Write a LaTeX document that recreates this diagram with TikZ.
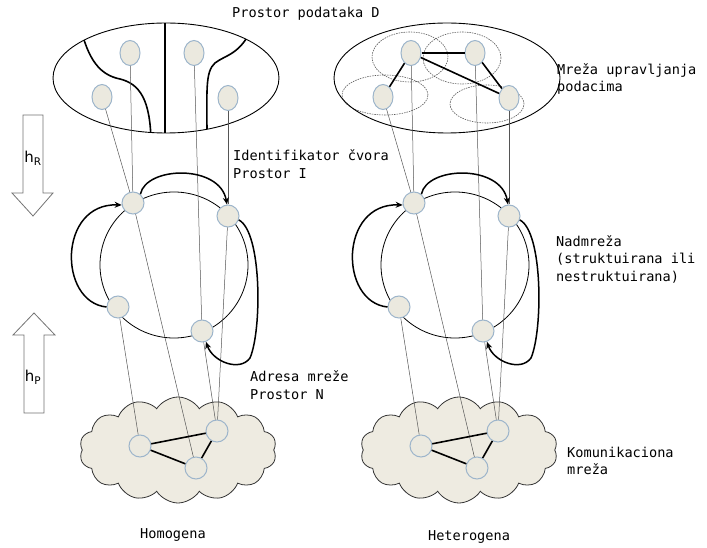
\documentclass[tikz,border=0pt]{standalone}
\usepackage{fontspec}
\setmonofont{DejaVu Sans Mono}
\newfontfamily\hfont{DejaVu Sans}
\usetikzlibrary{shapes.geometric,shapes.symbols,arrows.meta}
\definecolor{nodefill}{HTML}{EBE9DF}
\definecolor{nodeedge}{HTML}{9DB5CB}
\definecolor{cloudfill}{HTML}{EEEBE1}
\definecolor{thinline}{HTML}{555555}
\tikzset{
 pnode/.style={circle, fill=nodefill, draw=nodeedge, line width=1pt, minimum size=22pt, inner sep=0pt},
 dnode/.style={ellipse, fill=nodefill, draw=nodeedge, line width=1pt, minimum width=20pt, minimum height=25pt, inner sep=0pt},
 thinlink/.style={draw=thinline, line width=0.5pt},
 thicklink/.style={draw=black, line width=1.6pt},
 bigarrow/.style={draw=black, line width=1.5pt, -{Stealth[length=7pt,width=6pt]}},
 lbl/.style={font=\ttfamily\fontsize{13.6}{17.5}\selectfont, align=left, anchor=west, inner sep=0pt},
 clbl/.style={font=\ttfamily\fontsize{13.6}{17.5}\selectfont, inner sep=0pt},
 cloudnode/.style={cloud, cloud puffs=14, cloud puff arc=115, aspect=1.9, draw=black!80, line width=0.8pt, fill=cloudfill, minimum width=197pt, minimum height=106pt, inner sep=0pt},
 hollow/.style={draw=black!55, line width=0.8pt, fill=white},
 hlbl/.style={font=\hfont\fontsize{15}{15}\selectfont, inner sep=0pt},
 zone/.style={draw=black!65, line width=0.6pt, dash pattern=on 1.5pt off 1pt}
}
\begin{document}
\begin{tikzpicture}[x=1pt,y=-1pt]
\useasboundingbox (0,0) rectangle (707,548);
% side arrows
\draw[hollow] (23,115) -- (43,115) -- (43,193) -- (53,193) -- (33,216) -- (12,193) -- (23,193) -- cycle;
\draw[hollow] (24,413) -- (24,335) -- (13,335) -- (34,313) -- (55,335) -- (44,335) -- (44,413) -- cycle;
\node[hlbl] (hr) at (33,158) {h\textsubscript{R}};
\node[hlbl] (hp) at (33,377) {h\textsubscript{P}};
% right-only dotted zones
\draw[zone] (410,57) ellipse [x radius=38pt, y radius=25pt];
\draw[zone] (462,58) ellipse [x radius=39pt, y radius=26pt];
\draw[zone] (385,95) ellipse [x radius=43pt, y radius=20pt];
\draw[zone] (487,104) ellipse [x radius=37pt, y radius=19pt];
% left-only partition curves
\begin{scope}
 \clip (166,78) ellipse [x radius=113pt, y radius=55pt];
 \draw[line width=1.6pt] (80,25) .. controls (88,60) and (100,75) .. (120,79) .. controls (140,84) and (150,100) .. (151,140);
 \draw[line width=1.6pt] (252,28) .. controls (240,55) and (225,55) .. (215,63) .. controls (205,72) and (207,90) .. (207,140);
 \draw[line width=1.6pt] (165,10) -- (165,140);
\end{scope}
\foreach \s/\dx in {L/0,R/281}{
 \begin{scope}[xshift=\dx pt]
  \node[cloudnode] (cl\s) at (178,450) {};
  \draw[line width=0.8pt] (174,265) ellipse [x radius=74pt, y radius=73pt];
  \draw[line width=0.9pt] (166,78) ellipse [x radius=113pt, y radius=55pt];
  \node[dnode] (d1\s) at (130,53) {};
  \node[dnode] (d2\s) at (194,53) {};
  \node[dnode] (d3\s) at (102,97) {};
  \node[dnode] (d4\s) at (228,98) {};
  \node[pnode] (r1\s) at (133,203) {};
  \node[pnode] (r2\s) at (228,216) {};
  \node[pnode] (r3\s) at (118,307) {};
  \node[pnode] (r4\s) at (202,331) {};
  \node[pnode] (c1\s) at (140,446) {};
  \node[pnode] (c2\s) at (217,431) {};
  \node[pnode] (c3\s) at (196,468) {};
  \draw[thinlink] (d1\s) -- (r1\s);
  \draw[thinlink] (d3\s) -- (r1\s);
  \draw[thinlink] (d2\s) -- (r4\s);
  \draw[thinlink] (d4\s) -- (r2\s);
  \draw[thinlink] (r1\s) -- (c3\s);
  \draw[thinlink] (r3\s) -- (c1\s);
  \draw[thinlink] (r4\s) -- (c2\s);
  \draw[thinlink] (r2\s) -- (c2\s);
  \draw[thicklink] (c1\s) -- (c2\s);
  \draw[thicklink] (c1\s) -- (c3\s);
  \draw[thicklink] (c3\s) -- (c2\s);
  \draw[bigarrow] (r1\s.50) .. controls (146,166) and (220,164) .. (r2\s.95);
  \draw[bigarrow] (r3\s.180) .. controls (58,302) and (58,203) .. (r1\s.190);
  \draw[bigarrow] (r2\s.-20) .. controls (262,232) and (262,330) .. (250,358) .. controls (240,372) and (213,362) .. (r4\s.-70);
 \end{scope}
}
\draw[thicklink] (d1R) -- (d2R);
\draw[thicklink] (d1R) -- (d3R);
\draw[thicklink] (d1R) -- (d4R);
\draw[thicklink] (d2R) -- (d4R);
% labels
\node[lbl] (tD) at (232,14) {Prostor podataka D};
\node[lbl] (tM) at (557,79) {Mreža upravljanja\\podacima};
\node[lbl] (tI) at (233,164) {Identifikator čvora\\Prostor I};
\node[lbl] (tO) at (556,259) {Nadmreža\\(struktuirana ili\\nestruktuirana)};
\node[lbl] (tA) at (250,385) {Adresa mreže\\Prostor N};
\node[lbl] (tK) at (567,461) {Komunikaciona\\mreža};
\node[clbl] (tH) at (173,535) {Homogena};
\node[clbl] (tE) at (469,537) {Heterogena};
\end{tikzpicture}
\end{document}
